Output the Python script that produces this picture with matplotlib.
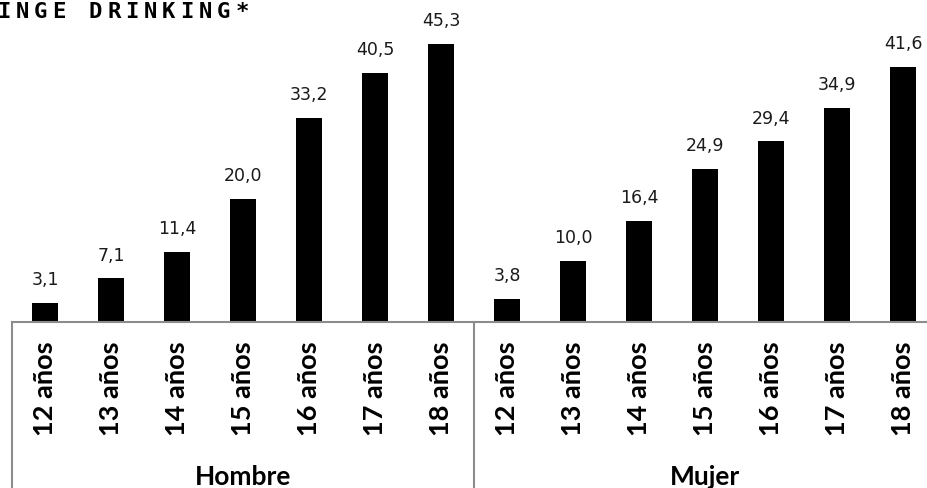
import matplotlib
matplotlib.use("Agg")
import matplotlib.pyplot as plt
from matplotlib.lines import Line2D
from matplotlib.transforms import blended_transform_factory

title = "BINGE DRINKING*"
groups = ["Hombre", "Mujer"]
ages = ["12 años", "13 años", "14 años", "15 años", "16 años", "17 años", "18 años"]
hombre = [3.1, 7.1, 11.4, 20.0, 33.2, 40.5, 45.3]
mujer = [3.8, 10.0, 16.4, 24.9, 29.4, 34.9, 41.6]

W, H = 928, 488
fig = plt.figure(figsize=(W / 100, H / 100), dpi=100)

def fx(px):
    return px / W

def fy(py):
    return 1 - py / H

ax_left, ax_right = 12, 936
ax_bottom, ax_top = 322, 15
ax = fig.add_axes([fx(ax_left), fy(ax_bottom), fx(ax_right - ax_left), (ax_bottom - ax_top) / H])
ax.set_xlim(-0.5, 13.5)
ax.set_ylim(0, 50)
ax.axis("off")

values = hombre + mujer
labels = ages + ages
xs = list(range(len(values)))
ax.bar(xs, values, width=0.38, color="black")
for x, v in zip(xs, values):
    ax.annotate(f"{v:.1f}".replace(".", ","), (x, v), xytext=(0, 10), textcoords="offset points",
                ha="center", va="bottom", fontsize=12.5, family="DejaVu Sans", color="#1a1a1a")

# axis line and group borders
gray = "#8c8c8c"
fig.add_artist(Line2D([fx(12), 1], [fy(322), fy(322)], color=gray, lw=1.5))
for px in [12, 474]:
    fig.add_artist(Line2D([fx(px), fx(px)], [fy(322), 0], color=gray, lw=1.5))

tr = blended_transform_factory(ax.transData, fig.transFigure)
# category labels
for x, lab in zip(xs, labels):
    ax.text(x, fy(341), lab, transform=tr, rotation=90, ha="center", va="top",
            fontsize=19.5, fontweight="bold", family="Lato")

for i, g in enumerate(groups):
    ax.text(3 + 7 * i, fy(485), g, transform=tr, ha="center", va="baseline",
            fontsize=19, fontweight="bold", family="Lato")

# title (cropped at left)
adv = 18.3
for k, ch in enumerate(title):
    cx = 4 + adv * (k - 1)
    fig.text(fx(cx), fy(18), ch, ha="center", va="baseline", fontsize=16,
             family="DejaVu Sans Mono", fontweight="bold")

fig.savefig("out.png", dpi=100)
